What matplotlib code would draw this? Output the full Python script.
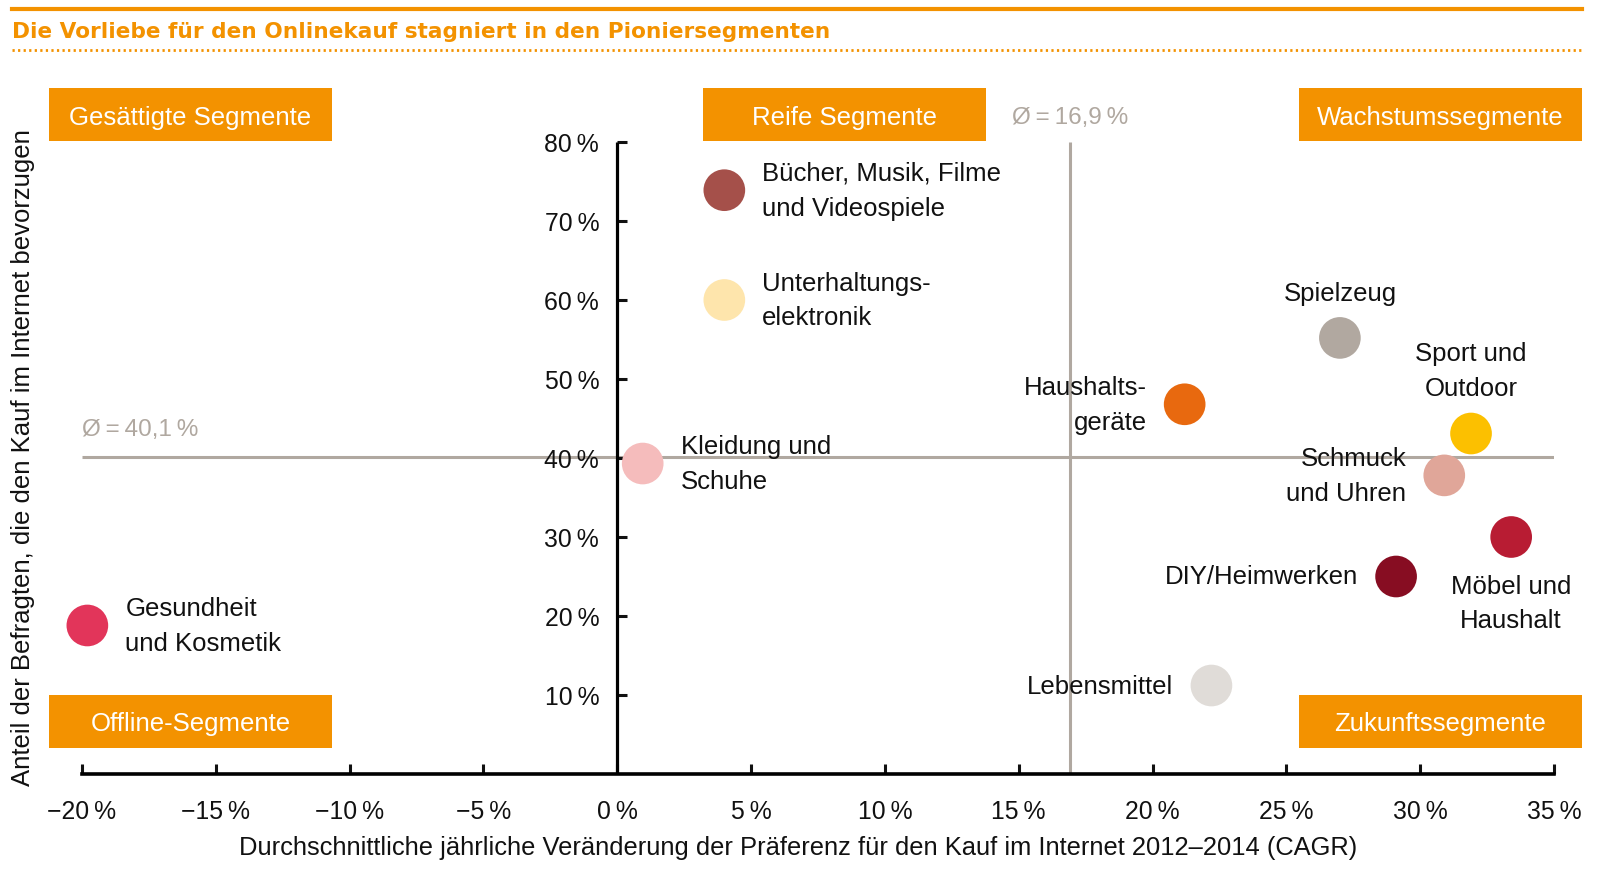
import matplotlib
matplotlib.use('Agg')
import matplotlib.pyplot as plt
from matplotlib.patches import Rectangle
from matplotlib.lines import Line2D

plt.rcParams['font.family'] = ['Liberation Sans', 'DejaVu Sans']

W, H = 1614, 870
ORANGE = '#f39200'
GREY = '#b0a8a0'
TXT = '#111111'

title = "Die Vorliebe für den Onlinekauf stagniert in den Pioniersegmenten"
xlabel = "Durchschnittliche jährliche Veränderung der Präferenz für den Kauf im Internet 2012–2014 (CAGR)"
ylabel = "Anteil der Befragten, die den Kauf im Internet bevorzugen"

categories = ["Bücher, Musik, Filme\nund Videospiele", "Unterhaltungs-\nelektronik", "Spielzeug",
              "Haushalts-\ngeräte", "Sport und\nOutdoor", "Kleidung und\nSchuhe", "Schmuck\nund Uhren",
              "Möbel und\nHaushalt", "DIY/Heimwerken", "Gesundheit\nund Kosmetik", "Lebensmittel"]
cagr = [4.0, 4.0, 27.0, 21.2, 31.9, 0.95, 30.9, 33.4, 29.1, -19.8, 22.2]
share = [73.9, 60.0, 55.2, 46.8, 43.1, 39.3, 37.8, 30.0, 25.0, 18.8, 11.2]
colors = ['#a5504a', '#fee5ac', '#b1a8a0', '#e8690f', '#fcc000', '#f5bcbc',
          '#e0a699', '#b81c33', '#870d22', '#e2355a', '#e0dcd8']

avg_share = 40.1
avg_cagr = 16.9
avg_share_label = "Ø\u2009=\u200940,1\u2009%"
avg_cagr_label = "Ø\u2009=\u200916,9\u2009%"

xticks = [-20, -15, -10, -5, 0, 5, 10, 15, 20, 25, 30, 35]
yticks = [10, 20, 30, 40, 50, 60, 70, 80]
segments = ["Gesättigte Segmente", "Reife Segmente", "Wachstumssegmente",
            "Offline-Segmente", "Zukunftssegmente"]

# label offsets in pixels (dx, dy) and alignment
label_off = [(38, 0), (38, 0), (0, 45), (-38, 0), (0, 63), (38, 0),
             (-38, 0), (0, -66), (-38, 0), (38, 0), (-38, 0)]
label_ha = ['left', 'left', 'center', 'right', 'center', 'left',
            'right', 'center', 'right', 'left', 'right']

def fx(x):
    return x / W

def fy(y):
    return 1 - y / H

fig = plt.figure(figsize=(W / 100, H / 100), dpi=100)

# axes spanning data area
x0, x1 = 82, 1554
y_top, y_bot = 143, 775
ax = fig.add_axes([fx(x0), fy(y_bot), (x1 - x0) / W, (y_bot - y_top) / H])
ax.set_xlim(-20, 35)
ax.set_ylim(0, 80)
ax.patch.set_alpha(0)
for s in ['top', 'right']:
    ax.spines[s].set_visible(False)
ax.spines['left'].set_position(('data', 0))
ax.spines['left'].set_linewidth(2.3)
ax.spines['bottom'].set_linewidth(2.6)
ax.spines['left'].set_capstyle('butt')

ax.set_xticks(xticks)
ax.set_xticklabels([("−" if v < 0 else "") + f"{abs(v)}\u2009%" for v in xticks])
ax.set_yticks(yticks)
ax.set_yticklabels([f"{v}\u2009%" for v in yticks])
ax.tick_params(axis='x', direction='in', length=7, width=2.2, pad=18, labelsize=17.8, colors=TXT)
ax.tick_params(axis='y', direction='in', length=7, width=2.2, pad=13, labelsize=17.8, colors=TXT)

# average lines
ax.plot([-20, 35], [avg_share, avg_share], color=GREY, lw=2.2, zorder=1, solid_capstyle='butt')
ax.plot([avg_cagr, avg_cagr], [0, 80], color=GREY, lw=2.2, zorder=1, solid_capstyle='butt')

ax.scatter(cagr, share, s=900, c=colors, edgecolors='none', zorder=3, clip_on=False)

for i, lab in enumerate(categories):
    ax.annotate(lab, (cagr[i], share[i]), xytext=label_off[i], textcoords='offset pixels',
                ha=label_ha[i], va='center', multialignment=label_ha[i], fontsize=18.5,
                color=TXT, linespacing=1.56, zorder=4, annotation_clip=False)

# average labels
fig.text(fx(82), fy(430), avg_share_label, fontsize=17.5, color=GREY, ha='left', va='center')
fig.text(fx(1012), fy(118), avg_cagr_label, fontsize=17.5, color=GREY, ha='left', va='center')

# segment boxes
boxes = [(49, 89), (703, 89), (1299, 89), (49, 696), (1299, 696)]
bw, bh = 283, 53
for (bx, by), name in zip(boxes, segments):
    fig.patches.append(Rectangle((fx(bx), fy(by + bh)), bw / W, bh / H, transform=fig.transFigure,
                                 facecolor=ORANGE, edgecolor='none', zorder=2))
    fig.text(fx(bx + bw / 2), fy(by + bh / 2 + 2), name, fontsize=18.5, color='white',
             ha='center', va='center', zorder=3)

# title and lines
fig.lines.append(Line2D([fx(12), fx(1582)], [fy(10), fy(10)], transform=fig.transFigure,
                        color=ORANGE, lw=3))
fig.lines.append(Line2D([fx(12), fx(1582)], [fy(51), fy(51)], transform=fig.transFigure,
                        color=ORANGE, lw=2, linestyle=(0, (0.8, 1.2))))
fig.text(fx(12), fy(32), title, fontsize=15.6, fontweight='bold', color=ORANGE, ha='left',
         va='center', family='DejaVu Sans')

# axis labels
fig.text(fx(798), fy(848), xlabel, fontsize=18.4, color=TXT, ha='center', va='center')
fig.text(fx(23), fy(458), ylabel, fontsize=18.5, color=TXT, ha='center', va='center', rotation=90)

fig.savefig('out.png', dpi=100)
